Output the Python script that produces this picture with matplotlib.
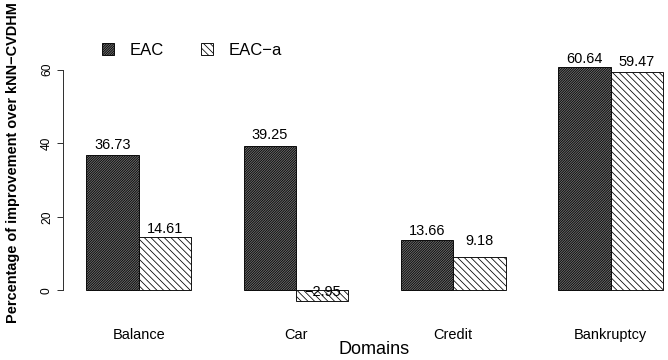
import matplotlib
matplotlib.use("Agg")
import matplotlib.pyplot as plt
from matplotlib.patches import Patch

# Data
categories = ["Balance", "Car", "Credit", "Bankruptcy"]
series_names = ["EAC", "EAC\u2212a"]
eac = [36.73, 39.25, 13.66, 60.64]
eac_a = [14.61, -2.95, 9.18, 59.47]
yticks = [0, 20, 40, 60]
# how far above each bar its value label sits (data units)
label_lift = [[2.8, 2.2], [2.9, 2.45], [2.4, 4.3], [2.3, 2.5]]

DPI = 80
W, H = 668, 360
plt.rcParams["font.family"] = ["Liberation Sans", "DejaVu Sans"]
plt.rcParams["hatch.linewidth"] = 0.7

fig = plt.figure(figsize=(W / DPI, H / DPI), dpi=DPI)
# plot region in pixels: x 63.4..686, y 58..310.7 (from top)
ax = fig.add_axes([63.4 / W, (H - 310.7) / H, (686 - 63.4) / W, (310.7 - 58) / H])

# grouped bars, R barplot style: each bar 1 unit wide, 1 unit gap between groups
n = len(categories)
group_left = [1 + 3 * i for i in range(n)]
x_eac = [g + 0.5 for g in group_left]
x_eac_a = [g + 1.5 for g in group_left]
centers = [g + 1.0 for g in group_left]

dark_style = dict(facecolor="#6e6e6e", edgecolor="black", hatch="/" * 11, linewidth=0.8)
light_style = dict(facecolor="white", edgecolor="black", hatch="\\" * 4, linewidth=0.8)

ax.bar(x_eac, eac, width=1.0, **dark_style)
ax.bar(x_eac_a, eac_a, width=1.0, **light_style)

# value labels
for i in range(n):
    for x, v, lift in ((x_eac[i], eac[i], label_lift[i][0]),
                       (x_eac_a[i], eac_a[i], label_lift[i][1])):
        ax.text(x, v + lift, f"{v:.2f}".replace("-", "\u2212"),
                ha="center", va="center", fontsize=13)

# axis limits with 4% padding like R
xmin, xmax = group_left[0], group_left[-1] + 2
xpad = 0.04 * (xmax - xmin)
ax.set_xlim(xmin - xpad, xmax + xpad)
vals = eac + eac_a
lo, hi = min(vals), max(vals)
ypad = 0.04 * (hi - lo)
ax.set_ylim(lo - ypad, hi + ypad)

for s in ("top", "right", "bottom"):
    ax.spines[s].set_visible(False)
ax.spines["left"].set_bounds(yticks[0], yticks[-1])
ax.spines["left"].set_color("#333333")
ax.spines["left"].set_linewidth(0.9)

ax.set_yticks(yticks)
ax.set_yticklabels([str(t) for t in yticks], rotation=90, va="center", fontsize=10.8)
ax.tick_params(axis="y", length=5.4, width=0.9, color="#333333", pad=4)

ax.set_xticks(centers)
ax.set_xticklabels(categories, fontsize=13)
ax.tick_params(axis="x", length=0, pad=15.3)

fig.text(374.5 / W, 1 - 350 / H, "Domains", ha="center", va="center", fontsize=16.2)
fig.text(13 / W, 1 - 163 / H, "Percentage of improvement over kNN\u2212CVDHM",
         rotation=90, ha="center", va="center", fontsize=13, fontweight="bold")

handles = [Patch(**dark_style), Patch(**light_style)]
fig.legend(handles, series_names, loc="center left",
           bbox_to_anchor=(102 / W, 1 - 50.5 / H), ncol=2, frameon=False,
           fontsize=15, handlelength=0.72, handleheight=0.72,
           handletextpad=0.96, columnspacing=2.2, borderpad=0, borderaxespad=0)

fig.savefig("out.png", dpi=DPI)
